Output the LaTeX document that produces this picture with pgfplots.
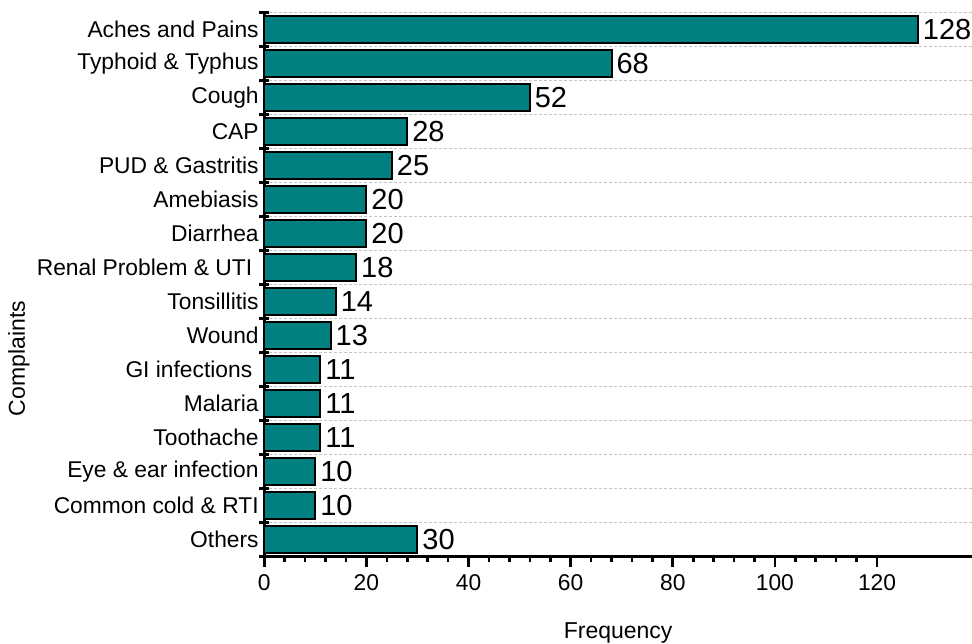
\documentclass[border=0pt]{standalone}
\usepackage{fontspec}
\setmainfont{Liberation Sans}
\usepackage{pgfplots}
\pgfplotsset{compat=1.18}
\definecolor{barteal}{HTML}{008080}
\definecolor{gridgray}{HTML}{C4C4C4}
\begin{document}
\begin{tikzpicture}
  % fixed page frame, 1px of the reference = 0.5pt
  \useasboundingbox (-132.15pt,-43.15pt) rectangle (353.85pt,278.35pt);
  \begin{axis}[
      scale only axis,
      width=353.85pt, height=272.2pt,
      at={(0,0)}, anchor=south west,
      xbar, bar width=0.8,
      y dir=reverse,
      xmin=0, xmax=138.6,
      ymin=-0.5, ymax=15.5,
      axis x line*=bottom, axis y line*=left,
      axis line style={line width=1.3pt, -},
      xtick={0,20,...,120},
      minor x tick num=4,
      tick align=outside,
      xtick style={line width=1.3pt, black},
      minor x tick style={line width=1.3pt, black},
      major tick length=5.3pt,
      minor tick length=2.6pt,
      ytick={0,...,15},
      yticklabels={Aches and Pains, Typhoid \& Typhus, Cough, CAP,
        PUD \& Gastritis, Amebiasis, Diarrhea, Renal Problem \& UTI\kern3.2pt,
        Tonsillitis, Wound, GI infections\kern3.2pt, Malaria, Toothache,
        Eye \& ear infection, Common cold \& RTI, Others},
      ytick style={/pgfplots/major tick length=0pt},
      minor ytick={-0.5,0.5,...,15.5},
      minor y tick style={line width=1.3pt, black, /pgfplots/minor tick length=5pt, xshift=2.5pt},
      ymajorgrids=false,
      yminorgrids=true,
      minor grid style={gridgray, line width=0.5pt, dash pattern=on 1.5pt off 1pt, xshift=0pt},
      tick label style={font=\fontsize{11.4}{13}\selectfont},
      yticklabel style={xshift=6pt},
      /pgf/number format/assume math mode=true,
      xlabel={Frequency},
      ylabel={Complaints},
      label style={font=\fontsize{11.5}{13}\selectfont},
      xlabel style={at={(axis description cs:0.5,0)}, anchor=base, yshift=-40.8pt},
      ylabel style={at={(axis description cs:-0.3466,0.364)}, anchor=center},
      nodes near coords,
      nodes near coords style={font=\fontsize{14.5}{16}\selectfont, anchor=west, inner sep=1pt, xshift=1pt},
      clip=false,
    ]
    \addplot[fill=barteal, draw=black, line width=1pt] coordinates {
      (128,0) (68,1) (52,2) (28,3) (25,4) (20,5) (20,6) (18,7)
      (14,8) (13,9) (11,10) (11,11) (11,12) (10,13) (10,14) (30,15)
    };
  \end{axis}
\end{tikzpicture}
\end{document}
